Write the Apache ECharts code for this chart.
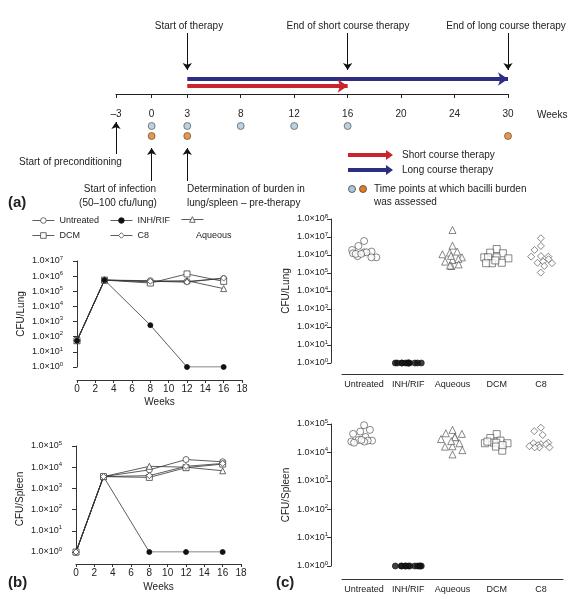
<!DOCTYPE html>
<html><head><meta charset="utf-8">
<script src="https://cdn.jsdelivr.net/npm/echarts@6/dist/echarts.min.js"></script>
<style>html,body{margin:0;padding:0;background:#fff}#c{width:576px;height:599px}</style>
</head><body><div id="c"></div>
<script>
// ---------- Panel (a): timeline ----------
const timelineTicks = ['–3','','0','','3','','','8','','','12','','','16','','','20','','','24','','','30'];
const assessBlueWeeks = ['0','3','8','12','16'];
const assessOrangeWeeks = ['0','3','30'];
const shortCourse = ['3','16'];
const longCourse = ['3','30'];
const downArrowWeeks = ['3','16','30'];
const upArrowWeeks = ['–3','0','3'];

// ---------- Panel (b): CFU over time ----------
const weeks = [0, 3, 8, 12, 16];
const lungUntreated = [55, 5.5e5, 5.0e5, 4.5e5, 7.0e5];
const lungINH = [55, 5.5e5, 580, 1, 1];
const lungAqueous = [55, 5.5e5, 4.2e5, 5.0e5, 1.5e5];
const lungDCM = [55, 5.5e5, 3.5e5, 1.4e6, 4.5e5];
const lungC8 = [55, 5.5e5, 4.6e5, 4.0e5, 7.5e5];
const spleenUntreated = [1, 3600, 7500, 2.3e4, 1.8e4];
const spleenINH = [1, 3600, 1, 1, 1];
const spleenAqueous = [1, 3600, 1.1e4, 1.0e4, 6800];
const spleenDCM = [1, 3600, 3300, 9500, 1.4e4];
const spleenC8 = [1, 3600, 4000, 1.1e4, 1.5e4];

// ---------- Panel (c): individual animals ----------
const groups = ['Untreated','INH/RIF','Aqueous','DCM','C8'];
const scLungUntreated = [6.0e6,3.2e6,1.4e6,1.55e6,1.9e6,1.4e6,1.25e6,8.7e5,7.4e5,7.4e5,1.15e6,1.15e6];
const scLungINH = [1,1,1,1,1,1,1,1,1,1,1,1];
const scLungAqueous = [2.45e7,3.3e6,1.35e6,1.55e6,1.1e6,7.4e5,5.2e5,6.0e5,4.3e5,3.0e5,2.45e5,2.6e5,9.0e5];
const scLungDCM = [2.15e6,1.35e6,1.25e6,7.4e5,7.4e5,6.5e5,7.4e5,3.7e5,3.5e5,3.5e5,5.0e5];
const scLungC8 = [8.5e6,3.2e6,1.9e6,8.7e5,8.1e5,8.1e5,3.7e5,3.5e5,4.3e5,2.45e5,1.05e5,5.8e5];
const scSpleenUntreated = [9.1e4,5.4e4,6.2e4,4.5e4,3.5e4,2.75e4,2.6e4,2.4e4,2.6e4,2.4e4,2.75e4,2.2e4];
const scSpleenINH = [1,1,1,1,1,1,1,1,1,1,1,1];
const scSpleenAqueous = [6.2e4,4.7e4,3.5e4,4.5e4,3.4e4,2.95e4,1.65e4,1.6e4,2.1e4,1.2e4,8.5e3,2.5e4];
const scSpleenDCM = [4.4e4,3.2e4,2.6e4,2.1e4,2.1e4,2.2e4,2.2e4,1.6e4,1.15e4,1.8e4,2.4e4];
const scSpleenC8 = [7.4e4,5.6e4,4.1e4,1.95e4,2.1e4,2.2e4,1.95e4,1.8e4,1.5e4,1.5e4,1.5e4,1.65e4];

// ================= build =================
const FONT = 'Liberation Sans, Arial, Helvetica, sans-serif';
const INK = '#222';
const chart = echarts.init(document.getElementById('c'), null, {renderer: 'canvas'});

const slotNames = timelineTicks.map((t, i) => t === '' ? '_' + i : t);
const slot = w => slotNames.indexOf(w);

// layout rows for schematic (pixel rows within grid 0)
const ROW = {longArrow: 79, shortArrow: 86, blueDot: 126, orangeDot: 136};

const expLabel = v => '{a|1.0×10}{s|' + Math.round(Math.log10(v)) + '}';
const expRich = {a: {fontSize: 9, color: INK, fontFamily: FONT, lineHeight: 12},
                 s: {fontSize: 6, color: INK, fontFamily: FONT, verticalAlign: 'top', lineHeight: 12}};

function logY(grid, max, name, nameGap) {
  return {gridIndex: grid, type: 'log', logBase: 10, min: 1, max: max, offset: 11,
    axisLine: {show: true, lineStyle: {color: '#333', width: 1}},
    axisTick: {show: true, length: 4, lineStyle: {color: '#333'}},
    axisLabel: {formatter: expLabel, rich: expRich, margin: 3},
    splitLine: {show: false}, minorTick: {show: false},
    name: name, nameLocation: 'middle', nameGap: nameGap,
    nameTextStyle: {fontSize: 10, color: INK, fontFamily: FONT}};
}
function weekX(grid, offset, nameGap) {
  return {gridIndex: grid, type: 'value', min: 0, max: 18, interval: 2, offset: offset,
    axisLine: {show: true, onZero: false, lineStyle: {color: '#333', width: 1}},
    axisTick: {show: true, length: 3, lineStyle: {color: '#333'}},
    axisLabel: {fontSize: 10, color: INK, fontFamily: FONT, margin: 4},
    splitLine: {show: false},
    name: 'Weeks', nameLocation: 'middle', nameGap: nameGap,
    nameTextStyle: {fontSize: 10, color: INK, fontFamily: FONT}};
}
function catX(grid, offset) {
  return {gridIndex: grid, type: 'category', data: groups, boundaryGap: true, offset: offset,
    jitter: 26, jitterOverlap: false, jitterMargin: 0.5,
    axisLine: {show: true, onZero: false, lineStyle: {color: '#333', width: 1}},
    axisTick: {show: false},
    axisLabel: {fontSize: 9, color: INK, fontFamily: FONT, margin: 6, interval: 0},
    splitLine: {show: false}};
}

const lineStyle = {color: '#333', width: 0.8};
const hollow = {color: '#fff', borderColor: '#444', borderWidth: 0.8};
const filled = {color: '#111', borderColor: '#111', borderWidth: 0.8};
const groupSpecs = [
  {name: 'Untreated', symbol: 'circle', style: hollow},
  {name: 'INH/RIF', symbol: 'circle', style: filled},
  {name: 'Aqueous', symbol: 'triangle', style: hollow},
  {name: 'DCM', symbol: 'rect', style: hollow},
  {name: 'C8', symbol: 'diamond', style: hollow}
];
const lungLines = [lungUntreated, lungINH, lungAqueous, lungDCM, lungC8];
const spleenLines = [spleenUntreated, spleenINH, spleenAqueous, spleenDCM, spleenC8];
const lungScatter = [scLungUntreated, scLungINH, scLungAqueous, scLungDCM, scLungC8];
const spleenScatter = [scSpleenUntreated, scSpleenINH, scSpleenAqueous, scSpleenDCM, scSpleenC8];

const series = [];
series.push({type: 'scatter', xAxisIndex: 0, yAxisIndex: 0, silent: true, clip: false,
  symbol: 'circle', symbolSize: 7,
  itemStyle: {color: '#a9c6da', borderColor: '#444', borderWidth: 0.8},
  data: assessBlueWeeks.map(w => [slot(w), ROW.blueDot]), z: 5});
series.push({type: 'scatter', xAxisIndex: 0, yAxisIndex: 0, silent: true, clip: false,
  symbol: 'circle', symbolSize: 7,
  itemStyle: {color: '#ea7a1f', borderColor: '#444', borderWidth: 0.8},
  data: assessOrangeWeeks.map(w => [slot(w), ROW.orangeDot]), z: 5});
series.push({type: 'lines', coordinateSystem: 'cartesian2d', xAxisIndex: 0, yAxisIndex: 0, silent: true, clip: false,
  symbol: ['none', 'arrow'], symbolSize: [0, 10],
  data: [
    {coords: [[slot(longCourse[0]), ROW.longArrow], [slot(longCourse[1]), ROW.longArrow]], lineStyle: {color: '#2d2d82', width: 4}},
    {coords: [[slot(shortCourse[0]), ROW.shortArrow], [slot(shortCourse[1]), ROW.shortArrow]], lineStyle: {color: '#c9252c', width: 4}}
  ], lineStyle: {opacity: 1, curveness: 0}});
series.push({type: 'lines', coordinateSystem: 'cartesian2d', xAxisIndex: 0, yAxisIndex: 0, silent: true, clip: false,
  symbol: ['none', 'arrow'], symbolSize: [0, 7],
  lineStyle: {color: '#111', width: 1, opacity: 1, curveness: 0},
  data: downArrowWeeks.map(w => ({coords: [[slot(w), 33], [slot(w), 70]]}))
    .concat([{coords: [[slot(upArrowWeeks[0]), 154], [slot(upArrowWeeks[0]), 122]]},
             {coords: [[slot(upArrowWeeks[1]), 181], [slot(upArrowWeeks[1]), 148]]},
             {coords: [[slot(upArrowWeeks[2]), 181], [slot(upArrowWeeks[2]), 148]]}])});

groupSpecs.forEach((g, k) => {
  series.push({type: 'line', name: g.name, xAxisIndex: 1, yAxisIndex: 1, symbol: g.symbol,
    symbolSize: k === 1 ? 5 : 6, lineStyle: lineStyle, itemStyle: g.style, z: k === 1 ? 10 : 3,
    data: weeks.map((w, i) => [w, lungLines[k][i]])});
});
groupSpecs.forEach((g, k) => {
  series.push({type: 'line', name: g.name, xAxisIndex: 2, yAxisIndex: 2, symbol: g.symbol,
    symbolSize: k === 1 ? 5 : 6, lineStyle: lineStyle, itemStyle: g.style, z: 3,
    data: weeks.map((w, i) => [w, spleenLines[k][i]])});
});
groupSpecs.forEach((g, k) => {
  series.push({type: 'scatter', name: g.name + ' (lung)', xAxisIndex: 3, yAxisIndex: 3, symbol: g.symbol,
    symbolSize: k === 1 ? 6 : 7, itemStyle: g.style,
    data: lungScatter[k].map(v => [groups[k], v])});
  series.push({type: 'scatter', name: g.name + ' (spleen)', xAxisIndex: 4, yAxisIndex: 4, symbol: g.symbol,
    symbolSize: k === 1 ? 6 : 7, itemStyle: g.style,
    data: spleenScatter[k].map(v => [groups[k], v])});
});

function txt(text, x, y, align, size, weight) {
  return {type: 'text', x: x, y: y, silent: true,
    style: {text: text, fill: INK, font: (weight || 'normal') + ' ' + (size || 10) + 'px ' + FONT,
      align: align || 'left', verticalAlign: 'middle', textAlign: align || 'left', textVerticalAlign: 'middle'}};
}
function legendArrow(x1, x2, y, color) {
  return [{type: 'line', silent: true, shape: {x1: x1, y1: y, x2: x2 - 6, y2: y}, style: {stroke: color, lineWidth: 4}},
          {type: 'polygon', silent: true, shape: {points: [[x2 - 7, y - 5], [x2, y], [x2 - 7, y + 5]]}, style: {fill: color}}];
}

const graphics = [
  txt('Start of therapy', 189, 26, 'center'),
  txt('End of short course therapy', 348, 26, 'center'),
  txt('End of long course therapy', 506, 26, 'center'),
  txt('Weeks', 537, 115, 'left'),
  txt('Start of preconditioning', 19, 162, 'left'),
  txt('Start of infection', 120, 189, 'center'),
  txt('(50–100 cfu/lung)', 118, 203, 'center'),
  txt('Determination of burden in', 187, 189, 'left'),
  txt('lung/spleen – pre-therapy', 187, 203, 'left'),
  txt('Short course therapy', 402, 155, 'left'),
  txt('Long course therapy', 402, 170, 'left'),
  txt('Time points at which bacilli burden', 374, 189, 'left'),
  txt('was assessed', 374, 202, 'left'),
  txt('(a)', 8, 203, 'left', 15, 'bold'),
  txt('(b)', 8, 583, 'left', 15, 'bold'),
  txt('(c)', 276, 583, 'left', 15, 'bold'),
  txt('Aqueous', 196, 236, 'left', 9),
  {type: 'circle', silent: true, shape: {cx: 352, cy: 189, r: 3.5}, style: {fill: '#a9c6da', stroke: '#444', lineWidth: 0.8}},
  {type: 'circle', silent: true, shape: {cx: 363, cy: 189, r: 3.5}, style: {fill: '#ea7a1f', stroke: '#444', lineWidth: 0.8}}
].concat(legendArrow(348, 393, 155, '#c9252c'), legendArrow(348, 393, 170, '#2d2d82'));

function leg(name, left, top, hideText) {
  return {data: [name], left: left, top: top, orient: 'horizontal', selectedMode: false,
    itemWidth: 22, itemHeight: 7, itemGap: 4, padding: 0,
    lineStyle: {width: 0.8, color: '#333'},
    itemStyle: {borderWidth: 0.8},
    textStyle: {fontSize: 9, color: INK, fontFamily: FONT},
    formatter: hideText ? () => '' : '{name}'};
}

const option = {
  animation: false,
  backgroundColor: '#fff',
  textStyle: {fontFamily: FONT},
  legend: [leg('Untreated', 32, 216), leg('INH/RIF', 110, 216), leg('Aqueous', 181, 216, true),
           leg('DCM', 32, 231), leg('C8', 110, 231)],
  grid: [
    {left: 116, right: 68, top: 0, height: 94},
    {left: 77, right: 334, top: 261, bottom: 232},
    {left: 76, right: 335, top: 446, bottom: 47},
    {left: 342, right: 13, top: 219, bottom: 236},
    {left: 342, right: 13, top: 424, bottom: 33}
  ],
  xAxis: [
    {gridIndex: 0, type: 'category', data: slotNames, boundaryGap: false,
      axisLine: {show: true, onZero: false, lineStyle: {color: '#222', width: 1}},
      axisTick: {show: true, length: 4, interval: (i, v) => v.charAt(0) !== '_', lineStyle: {color: '#222'}},
      axisLabel: {interval: (i, v) => v.charAt(0) !== '_', formatter: v => v.charAt(0) === '_' ? '' : v,
        fontSize: 10, color: INK, fontFamily: FONT, margin: 15},
      splitLine: {show: false}},
    weekX(1, 13, 17),
    weekX(2, 12, 18),
    catX(3, 11),
    catX(4, 13)
  ],
  yAxis: [
    {gridIndex: 0, type: 'value', min: 0, max: 94, inverse: true, show: false},
    logY(1, 1e7, 'CFU/Lung', 40),
    logY(2, 1e5, 'CFU/Spleen', 40),
    logY(3, 1e8, 'CFU/Lung', 40),
    logY(4, 1e5, 'CFU/Spleen', 40)
  ],
  series: series,
  graphic: graphics
};
chart.setOption(option);
</script></body></html>
